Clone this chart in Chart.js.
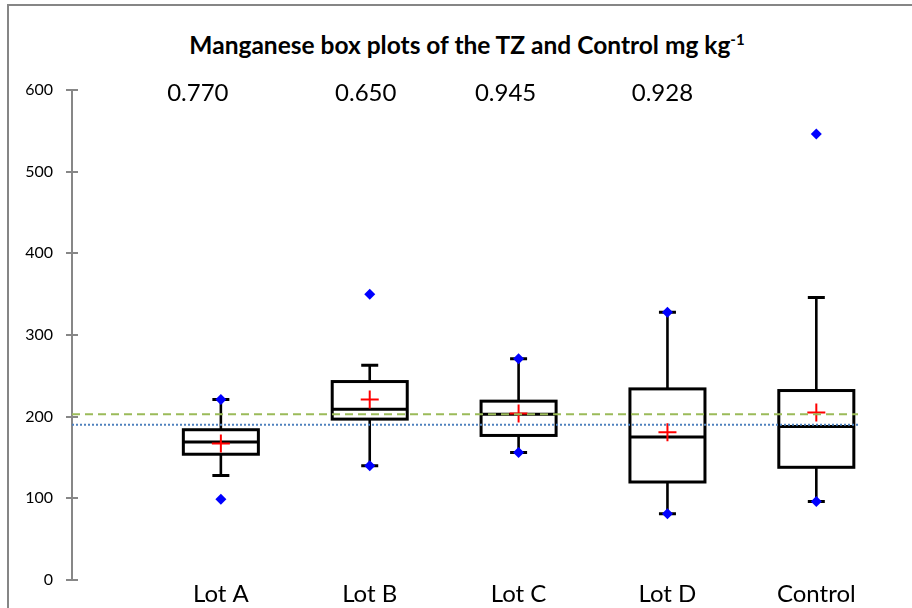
<!DOCTYPE html>
<html>
<head>
<meta charset="utf-8">
<script src="https://cdn.jsdelivr.net/npm/chart.js@4.4.1/dist/chart.umd.min.js"></script>
<style>
html,body{margin:0;padding:0;background:#fff;overflow:hidden;}
#wrap{position:relative;width:912px;height:608px;overflow:hidden;}
#frame{position:absolute;left:7px;top:4px;width:940px;height:640px;border-top:2px solid #868686;border-left:2px solid #868686;}
#title{position:absolute;left:0;width:934px;top:30px;line-height:30px;text-align:center;font-family:Lato,"Open Sans",sans-serif;font-weight:bold;font-size:24.5px;color:#000;white-space:nowrap;}
#title sup{font-size:15px;vertical-align:9px;line-height:0;}
canvas{position:absolute;left:0;top:0;}
</style>
</head>
<body>
<div id="wrap">
  <div id="frame"></div>
  <div id="title">Manganese box plots of the TZ and Control mg kg<sup>-1</sup></div>
  <canvas id="c" width="912" height="608"></canvas>
</div>
<script>
// ---- data ----
const categories  = ['Lot A', 'Lot B', 'Lot C', 'Lot D', 'Control'];
const whiskerLow  = [128, 140, 156, 81, 96];
const q1          = [154, 197, 177, 120, 138];
const median      = [169, 209, 203, 175, 188];
const q3          = [184, 243, 219, 234, 232];
const whiskerHigh = [221, 263, 271, 328, 346];
const means       = [167, 221, 204, 181, 205];
const minValues   = [99, 140, 156, 81, 96];
const maxValues   = [221, 350, 271, 328, 546];
const pValues     = ['0.770', '0.650', '0.945', '0.928'];
const yTickValues = [0, 100, 200, 300, 400, 500, 600];
const controlMeanLine   = 203;
const controlMedianLine = 190;

// ---- styling (not data) ----
const X_MAX = 5.28;
const pLabelOffsets = [-23, -4, -13, -5];
const FONT = 'Lato, "Open Sans", sans-serif';
Chart.defaults.font.family = FONT;
Chart.defaults.color = '#000';

const markerPoints = [];
categories.forEach((c, i) => {
  markerPoints.push({x: i + 1, y: minValues[i]});
  markerPoints.push({x: i + 1, y: maxValues[i]});
});
const meanPoints = categories.map((c, i) => ({x: i + 1, y: means[i]}));

const boxPlugin = {
  id: 'boxes',
  beforeDatasetsDraw(chart) {
    const {ctx, scales: {x, y}} = chart;
    const unit = x.getPixelForValue(1) - x.getPixelForValue(0);
    const half = unit * 0.252;
    const cap = 8.5;
    ctx.save();
    ctx.strokeStyle = '#000';
    ctx.lineCap = 'butt';
    categories.forEach((c, i) => {
      const cx = x.getPixelForValue(i + 1);
      const yLo = y.getPixelForValue(whiskerLow[i]);
      const yHi = y.getPixelForValue(whiskerHigh[i]);
      const yQ1 = y.getPixelForValue(q1[i]);
      const yQ3 = y.getPixelForValue(q3[i]);
      const yMed = y.getPixelForValue(median[i]);
      ctx.lineWidth = 2.6;
      ctx.beginPath();
      ctx.moveTo(cx, yHi); ctx.lineTo(cx, yQ3);
      ctx.moveTo(cx, yQ1); ctx.lineTo(cx, yLo);
      ctx.stroke();
      ctx.lineWidth = 3;
      ctx.beginPath();
      ctx.moveTo(cx - cap, yHi); ctx.lineTo(cx + cap, yHi);
      ctx.moveTo(cx - cap, yLo); ctx.lineTo(cx + cap, yLo);
      ctx.stroke();
      ctx.fillStyle = '#fff';
      ctx.fillRect(cx - half, yQ3, 2 * half, yQ1 - yQ3);
      ctx.strokeRect(cx - half, yQ3, 2 * half, yQ1 - yQ3);
      ctx.beginPath();
      ctx.moveTo(cx - half, yMed); ctx.lineTo(cx + half, yMed);
      ctx.stroke();
    });
    // inner halves of y tick marks
    ctx.strokeStyle = '#878787';
    ctx.lineWidth = 2;
    const left = chart.chartArea.left;
    yTickValues.forEach(v => {
      const py = Math.round(y.getPixelForValue(v));
      ctx.beginPath();
      ctx.moveTo(left, py); ctx.lineTo(left + 6, py);
      ctx.stroke();
    });
    ctx.restore();
  },
  afterDatasetsDraw(chart) {
    const {ctx, scales: {x, y}} = chart;
    ctx.save();
    ctx.fillStyle = '#000';
    ctx.font = '24px ' + FONT;
    ctx.textAlign = 'center';
    ctx.textBaseline = 'middle';
    pValues.forEach((t, i) => {
      ctx.fillText(t, x.getPixelForValue(i + 1) + pLabelOffsets[i], y.getPixelForValue(600) + 3);
    });
    ctx.restore();
  }
};

new Chart(document.getElementById('c'), {
  type: 'scatter',
  data: {
    datasets: [
      {
        label: 'Control mean',
        type: 'line',
        data: [{x: 0, y: controlMeanLine}, {x: X_MAX, y: controlMeanLine}],
        borderColor: '#9BBB59', borderWidth: 2, borderDash: [8, 5],
        pointRadius: 0, fill: false, order: 0
      },
      {
        label: 'Control median',
        type: 'line',
        data: [{x: 0, y: controlMedianLine}, {x: X_MAX, y: controlMedianLine}],
        borderColor: '#4F81BD', borderWidth: 2, borderDash: [2, 2],
        pointRadius: 0, fill: false, order: 0
      },
      {
        label: 'Mean',
        data: meanPoints,
        pointStyle: 'cross', pointRadius: 9, borderColor: '#FF0000', borderWidth: 2,
        backgroundColor: '#FF0000', order: 1
      },
      {
        label: 'Min/Max',
        data: markerPoints,
        pointStyle: 'rectRot', pointRadius: 5.5, borderWidth: 0,
        backgroundColor: '#0000FF', borderColor: '#0000FF', order: 2
      }
    ]
  },
  options: {
    responsive: false,
    animation: false,
    devicePixelRatio: 1,
    layout: {padding: {left: 0, top: 90, right: 54, bottom: 0}},
    plugins: {legend: {display: false}, tooltip: {enabled: false}, title: {display: false}},
    scales: {
      x: {
        type: 'linear', min: 0, max: X_MAX,
        afterFit(s) { s.height = 28; },
        grid: {display: false, drawTicks: false},
        border: {display: false},
        ticks: {
          stepSize: 1, includeBounds: false, autoSkip: false, maxRotation: 0,
          padding: 0,
          font: {size: 24},
          callback: (v) => (Number.isInteger(v) && v >= 1 && v <= categories.length) ? categories[v - 1] : ''
        }
      },
      y: {
        min: 0, max: 600,
        afterFit(s) { s.width = 72; },
        afterBuildTicks(s) { s.ticks = yTickValues.map(v => ({value: v})); },
        grid: {drawOnChartArea: false, drawTicks: true, tickLength: 6, color: '#878787', lineWidth: 2},
        border: {display: true, color: '#878787', width: 2},
        ticks: {padding: 13, font: {size: 16}, color: '#000'}
      }
    }
  },
  plugins: [boxPlugin]
});
</script>
</body>
</html>
